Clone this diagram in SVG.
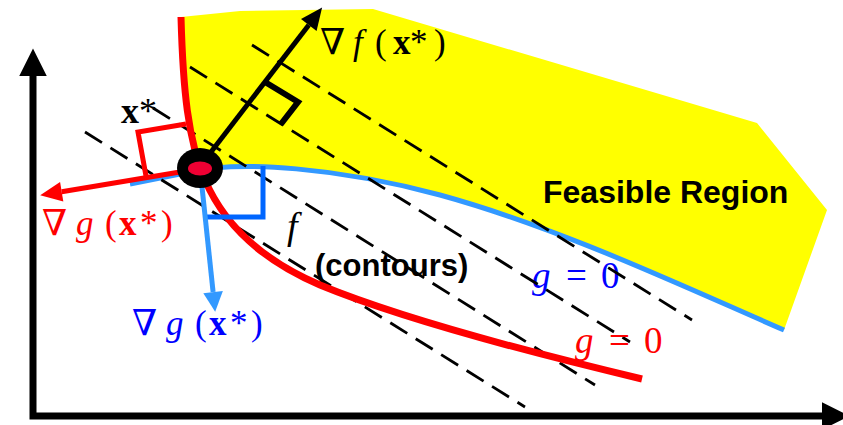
<svg xmlns="http://www.w3.org/2000/svg" width="843" height="425" viewBox="0 0 843 425">
<style>
.math{font-family:"Liberation Serif","DejaVu Serif",serif;}
.nabla{font-family:"DejaVu Serif","Liberation Serif",serif;font-size:36px;}
.it{font-style:italic;}
.bf{font-weight:bold;}
.sans{font-family:"Liberation Sans",Arial,sans-serif;font-weight:bold;fill:#000;}
.dash{fill:none;stroke:#000;stroke-width:2.8;stroke-dasharray:20 10;}
.red{fill:none;stroke:#ff0000;}
.blue{fill:none;stroke:#3399ff;}
</style>
<defs>
<marker id="axisHead" markerUnits="userSpaceOnUse" markerWidth="30" markerHeight="30" viewBox="0 -12 24 24" refX="0" refY="0" orient="auto-start-reverse" overflow="visible">
<path d="M0,-11 L22,0 L0,11 Z" fill="#000"/>
</marker>
<marker id="headBlack" markerUnits="userSpaceOnUse" markerWidth="24" markerHeight="24" viewBox="0 -10 22 20" refX="0" refY="0" orient="auto" overflow="visible">
<path d="M0,-9 L20,0 L0,9 Z" fill="#000"/>
</marker>
<marker id="headRed" markerUnits="userSpaceOnUse" markerWidth="24" markerHeight="24" viewBox="0 -10 22 20" refX="0" refY="0" orient="auto" overflow="visible">
<path d="M0,-9 L20,0 L0,9 Z" fill="#ff0000"/>
</marker>
<marker id="headBlue" markerUnits="userSpaceOnUse" markerWidth="24" markerHeight="24" viewBox="0 -10 22 20" refX="0" refY="0" orient="auto" overflow="visible">
<path d="M0,-9 L18,0 L0,9 Z" fill="#3399ff"/>
</marker>
</defs>
<rect width="843" height="425" fill="#fff"/>

<g id="feasible-region">
<path d="M181,17 L240,11 L373,9 L757,123 L827,210 L784,330 C680,285 560,228 440,195 C340,168 240,160 190,172 L205,180 C188,140 183,90 181,17 Z" fill="#ffff00"/>
<text class="sans" x="543" y="203" font-size="32">Feasible Region</text>
</g>

<g id="axes">
<path d="M33,76 L33,416 L822,416" fill="none" stroke="#000" stroke-width="7" stroke-linejoin="miter" marker-start="url(#axisHead)" marker-end="url(#axisHead)"/>
</g>

<g id="constraint-blue">
<path class="blue" stroke-width="5" d="M130,184 L190,172 C240,160 340,168 440,195 C560,228 680,285 784,330"/>
<text class="math" font-size="37" y="288" fill="#0000ff"><tspan class="it" x="532">g</tspan><tspan x="566">=</tspan><tspan x="601">0</tspan></text>
</g>

<g id="contours">
<line class="dash" x1="252" y1="45" x2="692" y2="320"/>
<line class="dash" x1="190" y1="67" x2="630" y2="342"/>
<line class="dash" x1="153" y1="108" x2="595" y2="385"/>
<line class="dash" x1="85" y1="132" x2="525" y2="407"/>
<text class="math it" x="287" y="239" font-size="38" fill="#000">f</text>
<text class="sans" x="315" y="276" font-size="31">(contours)</text>
</g>

<g id="constraint-red">
<path class="red" stroke-width="7" d="M181,17 C183,90 188,140 205,180 C220,215 250,255 320,285 C400,318 520,350 642,379"/>
<text class="math" font-size="37" y="353" fill="#ff0000"><tspan class="it" x="575">g</tspan><tspan x="609">=</tspan><tspan x="644">0</tspan></text>
</g>

<g id="connectors">
<polyline points="186,124 138,132 146,176" fill="none" stroke="#ff0000" stroke-width="5"/>
<polyline points="203,217 263,217 263,166" fill="none" stroke="#0066ff" stroke-width="5"/>
<polyline points="265,82 298,102 281,124" fill="none" stroke="#000" stroke-width="6"/>
<line x1="211" y1="152" x2="308.8" y2="24.9" stroke="#000" stroke-width="5" marker-end="url(#headBlack)"/>
<line x1="180" y1="172" x2="61.7" y2="191.7" stroke="#ff0000" stroke-width="5" marker-end="url(#headRed)"/>
<line x1="202" y1="187" x2="213.1" y2="292.1" stroke="#3399ff" stroke-width="5" marker-end="url(#headBlue)"/>
</g>

<g id="optimum">
<ellipse cx="200" cy="168" rx="23" ry="20" fill="#000"/>
<ellipse cx="200" cy="168.5" rx="12" ry="7" fill="#ee0033"/>
<text class="math" font-size="36" y="123" fill="#000"><tspan class="bf" x="121">x</tspan><tspan x="139">*</tspan></text>
</g>

<g id="label-grad-f">
<text class="math" font-size="35" y="54" fill="#000"><tspan class="nabla" x="320">∇</tspan><tspan class="it" x="353">f</tspan><tspan x="375">(</tspan><tspan class="bf" x="393">x</tspan><tspan x="410">*</tspan><tspan x="434">)</tspan></text>
</g>

<g id="label-grad-g-red">
<text class="math" font-size="35" y="235" fill="#ff0000"><tspan class="nabla" x="42">∇</tspan><tspan class="it" x="76">g</tspan><tspan x="105">(</tspan><tspan class="bf" x="119">x</tspan><tspan x="140">*</tspan><tspan x="161">)</tspan></text>
</g>

<g id="label-grad-g-blue">
<text class="math" font-size="35" y="335" fill="#0000ff"><tspan class="nabla" x="132">∇</tspan><tspan class="it" x="166">g</tspan><tspan x="195">(</tspan><tspan class="bf" x="209">x</tspan><tspan x="230">*</tspan><tspan x="251">)</tspan></text>
</g>
</svg>
